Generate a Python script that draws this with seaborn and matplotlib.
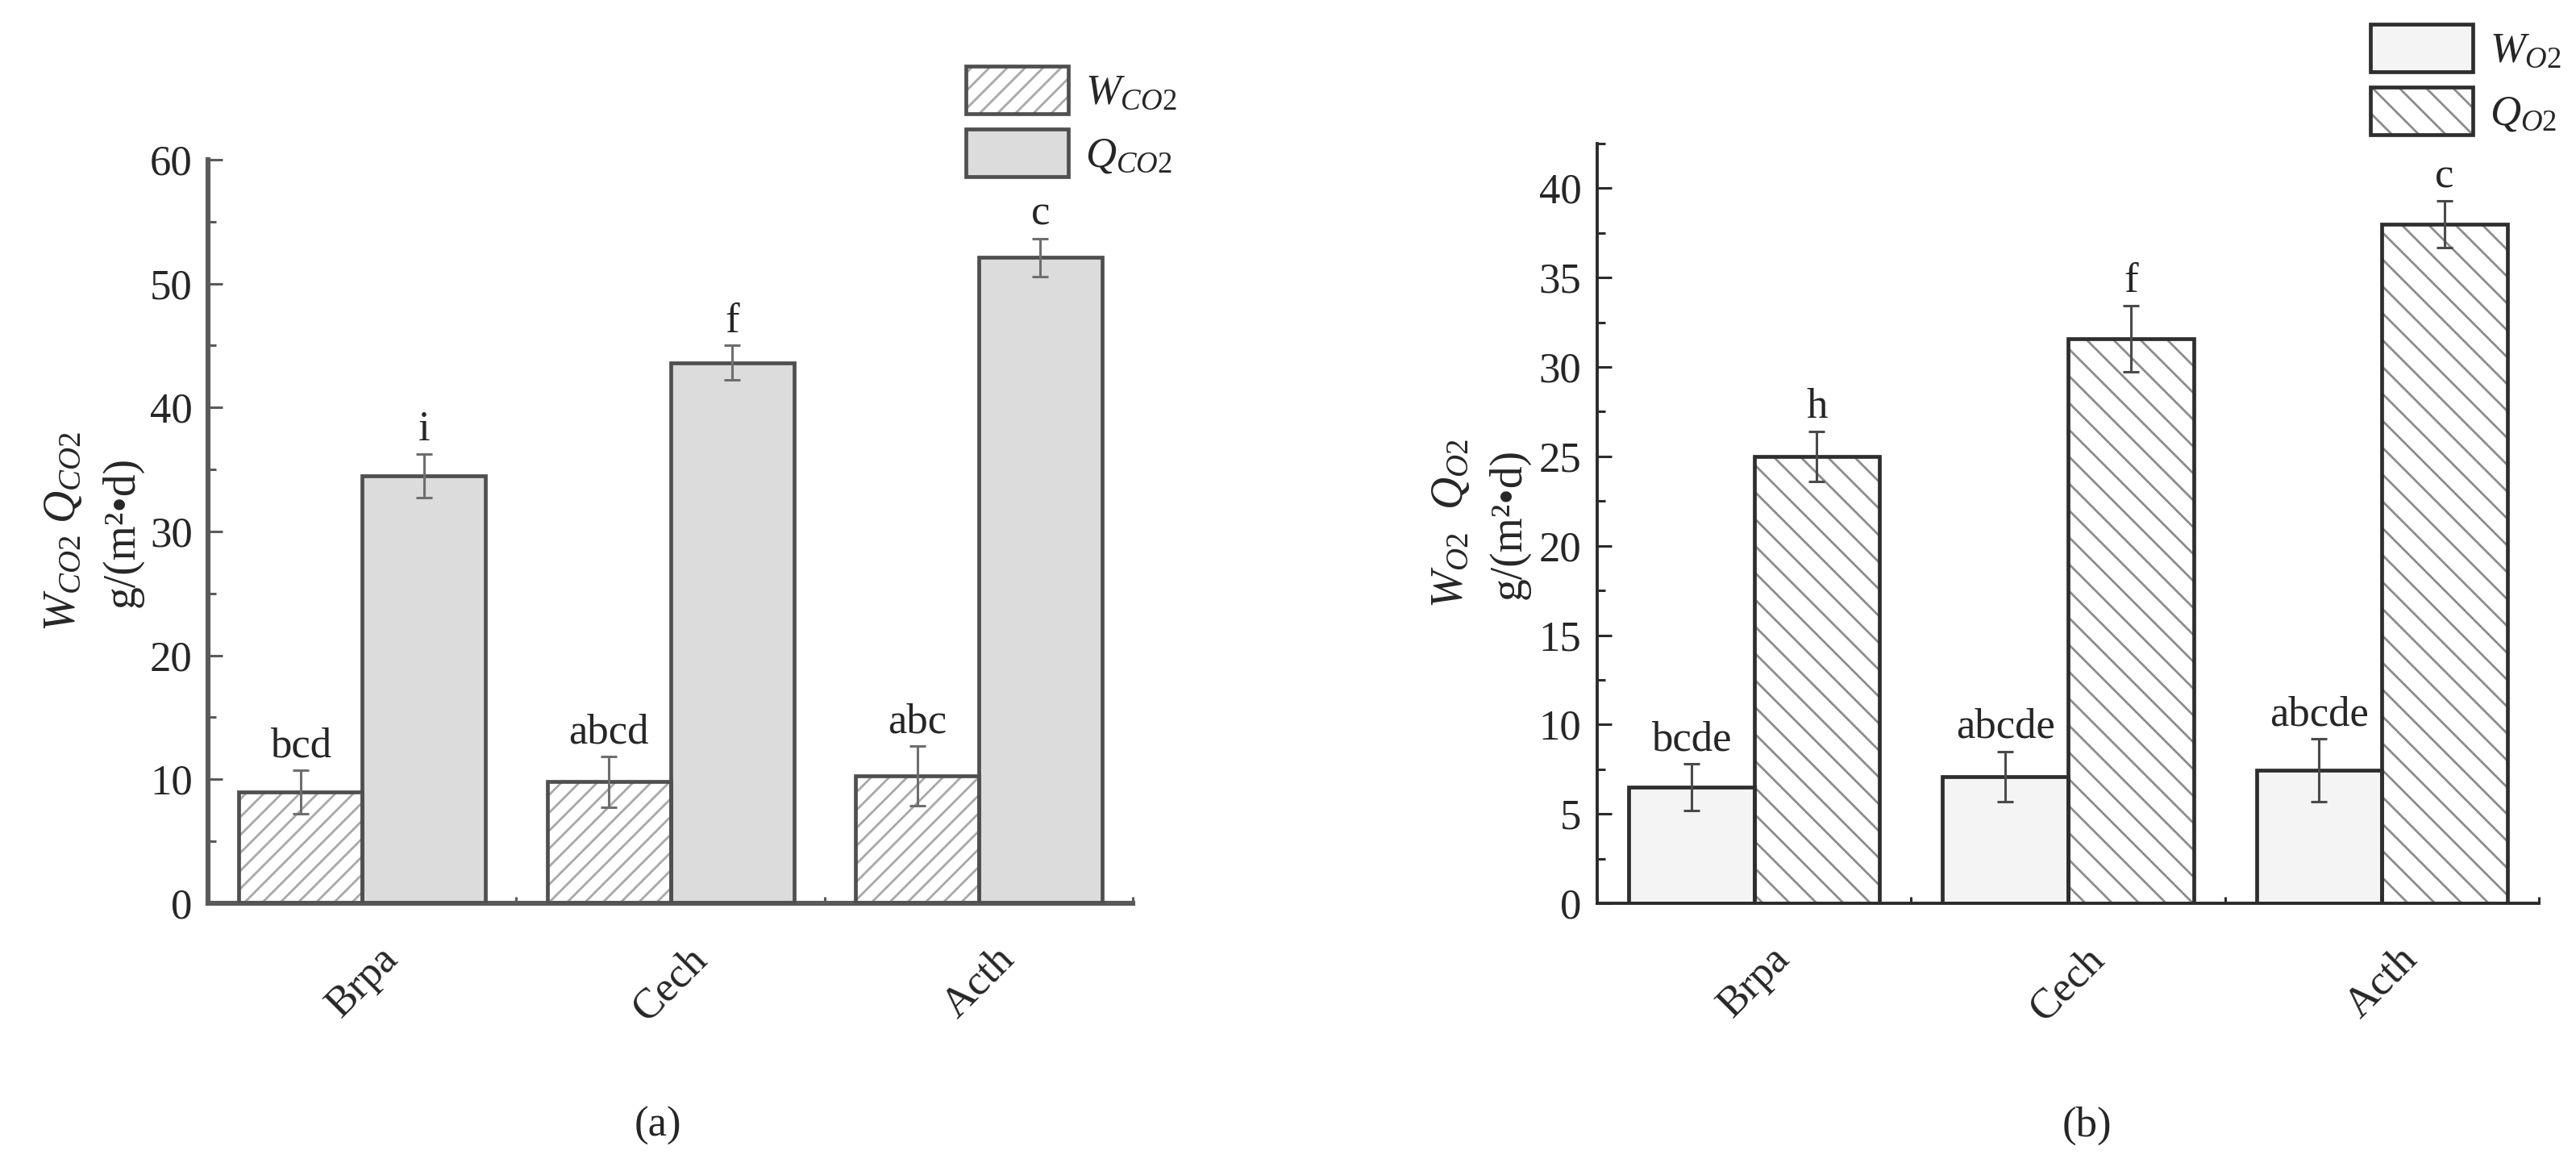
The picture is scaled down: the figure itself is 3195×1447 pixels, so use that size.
import numpy as np
import pandas as pd
import seaborn as sns
import matplotlib
matplotlib.use("Agg")
import matplotlib.pyplot as plt
from matplotlib.patches import Rectangle, Patch
from matplotlib.ticker import MultipleLocator
from matplotlib.legend_handler import HandlerTuple

species = ['Brpa', 'Cech', 'Acth']

# panel (a): CO2
w_co2 = [9.0, 9.8, 10.3]
w_co2_err = [1.75, 2.05, 2.4]
w_co2_sig = ['bcd', 'abcd', 'abc']
q_co2 = [34.5, 43.6, 52.1]
q_co2_err = [1.75, 1.4, 1.55]
q_co2_sig = ['i', 'f', 'c']

# panel (b): O2
w_o2 = [6.5, 7.1, 7.45]
w_o2_err = [1.3, 1.4, 1.75]
w_o2_sig = ['bcde', 'abcde', 'abcde']
q_o2 = [25.0, 31.6, 38.0]
q_o2_err = [1.4, 1.85, 1.3]
q_o2_sig = ['h', 'f', 'c']

sns.set_style("ticks")
plt.rcParams['font.family'] = ['Liberation Serif', 'DejaVu Serif']
plt.rcParams['mathtext.fontset'] = 'custom'
plt.rcParams['mathtext.rm'] = 'Liberation Serif'
plt.rcParams['mathtext.it'] = 'Liberation Serif:italic'
plt.rcParams['hatch.linewidth'] = 1.0

FS = 19


def draw_panel(ax, w, werr, wsig, q, qerr, qsig, names, faces, hatches,
               hatch_col, edge_col, spine_col, err_col, ymax, major, minor):
    df = pd.DataFrame({
        'species': species * 2,
        'value': w + q,
        'series': [names[0]] * 3 + [names[1]] * 3,
    })
    sns.barplot(data=df, x='species', y='value', hue='series',
                hue_order=names, palette=dict(zip(names, faces)),
                saturation=1, errorbar=None, width=0.8, legend=False, ax=ax)

    errs = [werr, qerr]
    sigs = [wsig, qsig]
    handles = []
    bar_conts = list(ax.containers[:2])
    for k, cont in enumerate(bar_conts):
        xs, hs = [], []
        for p in cont.patches:
            p.set_hatch(hatches[k])
            p.set_edgecolor(hatch_col)
            p.set_linewidth(0)
            ax.add_patch(Rectangle(p.get_xy(), p.get_width(), p.get_height(),
                                   fill=False, ec=edge_col, lw=1.7, zorder=4))
            xs.append(p.get_x() + p.get_width() / 2)
            hs.append(p.get_height())
        ax.errorbar(xs, hs, yerr=errs[k], fmt='none', ecolor=err_col,
                    elinewidth=1.1, capsize=3.5, capthick=1.1, zorder=5)
        for x, h, e, s in zip(xs, hs, errs[k], sigs[k]):
            ax.annotate(s, (x, h + e), xytext=(0, 6), textcoords='offset points',
                        ha='center', va='baseline', fontsize=FS)
        fill = Patch(facecolor=faces[k], hatch=hatches[k], edgecolor=hatch_col, lw=0)
        edge = Patch(fill=False, edgecolor=edge_col, lw=1.7)
        handles.append((fill, edge))

    ax.set_xlim(-0.5, 2.5)
    ax.set_ylim(0, ymax)
    ax.yaxis.set_major_locator(MultipleLocator(major))
    ax.yaxis.set_minor_locator(MultipleLocator(minor))
    ax.set_xticks([0.5, 1.5, 2.5], minor=True)
    ax.tick_params(axis='y', which='major', direction='in', length=6.5, width=1.1,
                   pad=7, labelsize=FS, color=spine_col)
    ax.tick_params(axis='y', which='minor', direction='in', length=3.5, width=1.1,
                   color=spine_col)
    ax.tick_params(axis='x', which='major', length=0, pad=16, labelsize=FS)
    ax.tick_params(axis='x', which='minor', direction='in', length=3, width=1.1,
                   color=spine_col)
    plt.setp(ax.get_xticklabels(), rotation=45, ha='center')
    ax.set_xlabel('')
    sns.despine(ax=ax)
    for s in ['left', 'bottom']:
        ax.spines[s].set_color(spine_col)
    return handles


fig = plt.figure(figsize=(15.975, 7.235), dpi=200)
ax1 = fig.add_axes([0.0808, 0.2260, 0.3590, 0.6372])
ax2 = fig.add_axes([0.6200, 0.2260, 0.3656, 0.6510])

h1 = draw_panel(ax1, w_co2, w_co2_err, w_co2_sig, q_co2, q_co2_err, q_co2_sig,
                ['W', 'Q'], ['white', '#dcdcdc'], ['///', ''],
                '#a8a8a8', '#4f4f4f', '#5a5a5a', '#6e6e6e', 60, 10, 5)
for s in ['left', 'bottom']:
    ax1.spines[s].set_linewidth(2.2)

h2 = draw_panel(ax2, w_o2, w_o2_err, w_o2_sig, q_o2, q_o2_err, q_o2_sig,
                ['W', 'Q'], ['#f4f4f4', 'white'], ['', '\\\\'],
                '#8c8c8c', '#2e2e2e', '#2b2b2b', '#4a4a4a', 42.5, 5, 2.5)
for s in ['left', 'bottom']:
    ax2.spines[s].set_linewidth(1.4)

ax1.set_ylabel(r'$W_{\mathit{CO2}}$ $Q_{\mathit{CO2}}$' + '\n' + 'g/(m²•d)',
               fontsize=FS + 1, linespacing=1.5)
ax1.yaxis.set_label_coords(-0.0706, 0.5)
ax2.set_ylabel(r'$W_{\mathit{O2}}$  $Q_{\mathit{O2}}$' + '\n' + 'g/(m²•d)',
               fontsize=FS + 1, linespacing=1.5)
ax2.yaxis.set_label_coords(-0.0711, 0.5)

leg_kw = dict(loc='upper left', bbox_transform=fig.transFigure, frameon=False,
              borderaxespad=0, borderpad=0, handlelength=2.4, handleheight=1.35,
              handletextpad=0.4, labelspacing=0.35, fontsize=FS,
              handler_map={tuple: HandlerTuple(ndivide=1)})
ax1.legend(h1, [r'$W_{\mathit{CO2}}$', r'$Q_{\mathit{CO2}}$'],
           bbox_to_anchor=(1198 / 3195, 1 - 82 / 1447), **leg_kw)
ax2.legend(h2, [r'$W_{\mathit{O2}}$', r'$Q_{\mathit{O2}}$'],
           bbox_to_anchor=(2940 / 3195, 1 - 30 / 1447), **leg_kw)

fig.text(816 / 3195, 1 - 1396 / 1447, '(a)', ha='center', va='center', fontsize=FS)
fig.text(2588 / 3195, 1 - 1396 / 1447, '(b)', ha='center', va='center', fontsize=FS)

fig.savefig('out.png', dpi=200, facecolor='white')
